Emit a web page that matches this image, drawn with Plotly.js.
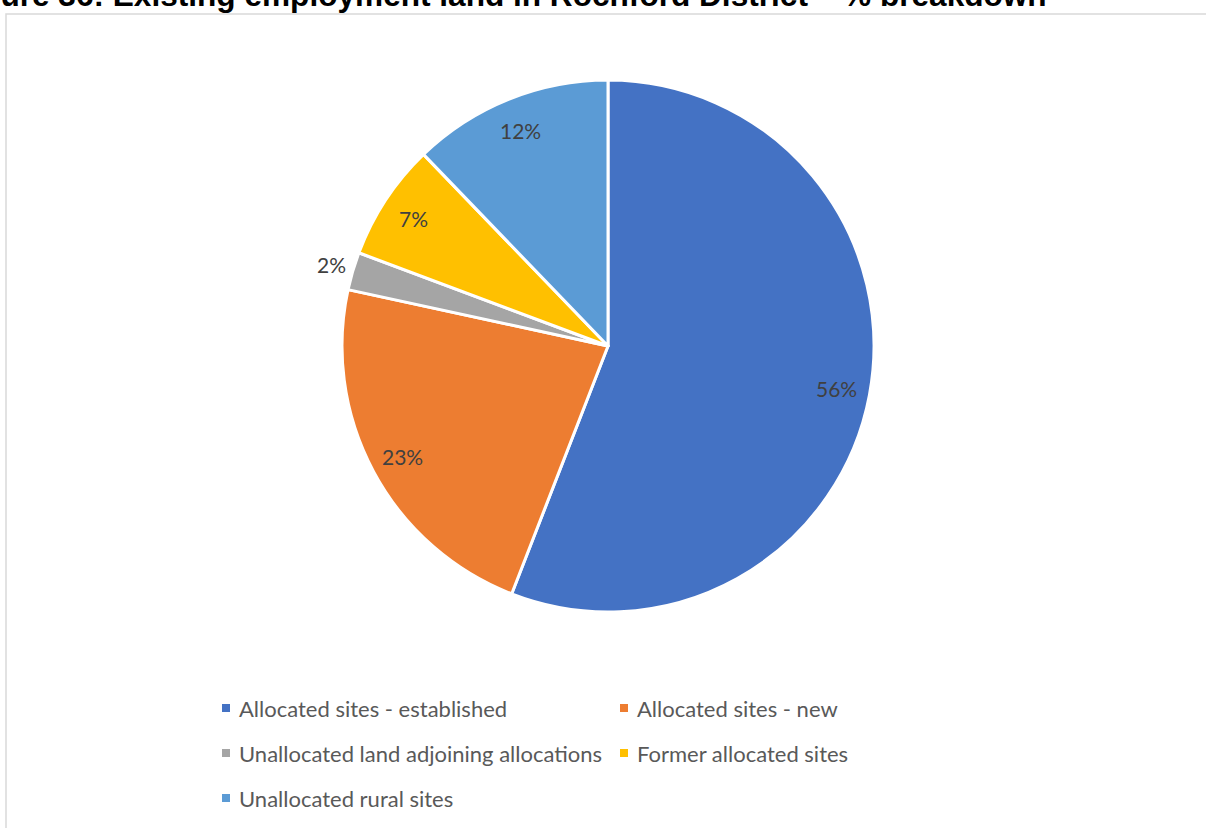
<!DOCTYPE html>
<html>
<head>
<meta charset="utf-8">
<script src="https://cdn.plot.ly/plotly-3.0.1.min.js"></script>
<style>
  html, body { margin: 0; padding: 0; background: #ffffff; }
  #chart { width: 1206px; height: 828px; }
</style>
</head>
<body>
<div id="chart"></div>
<script>
// ---- data ----
const categories = [
  "Allocated sites - established",
  "Allocated sites - new",
  "Unallocated land adjoining allocations",
  "Former allocated sites",
  "Unallocated rural sites"
];
const shares = [55.9, 22.5, 2.3, 7.1, 12.2];
const colors = ["#4472C4", "#ED7D31", "#A5A5A5", "#FFC000", "#5B9BD5"];
const chartTitle = "Figure 36: Existing employment land in Rochford District \u2013 % breakdown";

// ---- layout constants ----
const W = 1206, H = 828;
const cx = 608, cy = 346, R = 266;
const px = x => x / W;
const py = y => 1 - y / H;

const total = shares.reduce((a, b) => a + b, 0);

// labels placed at slice mid-angles (derived from the data)
const annotations = [];
let cum = 0;
shares.forEach((v, i) => {
  const mid = (cum + v / 2) / total * 2 * Math.PI;
  cum += v;
  const small = v / total < 0.05;
  const r = small ? 1.085 * R : 0.875 * R;
  const x = cx + Math.sin(mid) * r;
  const y = cy - Math.cos(mid) * r;
  annotations.push({
    xref: "paper", yref: "paper",
    x: px(x), y: py(y),
    xanchor: "center", yanchor: "middle",
    text: Math.round(v / total * 100) + "%",
    showarrow: false,
    font: {family: "Lato, 'Open Sans', sans-serif", size: 21, color: "#404040"}
  });
});

// title (partially cut off at the top of the frame, as in the source)
annotations.push({
  xref: "paper", yref: "paper",
  x: px(1049), y: py(-5),
  xanchor: "right", yanchor: "middle",
  text: "<b>" + chartTitle + "</b>",
  showarrow: false,
  font: {family: "'Liberation Sans', Arial, sans-serif", size: 31.6, color: "#000000"}
});

// legend (two columns, three rows)
const shapes = [{
  type: "rect", xref: "paper", yref: "paper",
  x0: px(6), x1: px(1215), y0: py(14), y1: py(840),
  line: {color: "#D9D9D9", width: 1.5}, fillcolor: "rgba(0,0,0,0)"
}];
const legCols = [226, 624];
const legRows = [708, 753, 798];
categories.forEach((c, i) => {
  const col = legCols[i % 2];
  const row = legRows[Math.floor(i / 2)];
  shapes.push({
    type: "rect", xref: "paper", yref: "paper",
    x0: px(col - 4), x1: px(col + 4), y0: py(row + 4), y1: py(row - 4),
    line: {width: 0}, fillcolor: colors[i]
  });
  annotations.push({
    xref: "paper", yref: "paper",
    x: px(col + 11), y: py(row),
    xanchor: "left", yanchor: "middle",
    text: c, showarrow: false,
    font: {family: "Lato, 'Open Sans', sans-serif", size: 22, color: "#595959"}
  });
});

const trace = {
  type: "pie",
  labels: categories,
  values: shares,
  sort: false,
  direction: "clockwise",
  rotation: 0,
  marker: {colors: colors, line: {color: "#FFFFFF", width: 3}},
  textinfo: "none",
  hoverinfo: "label+percent",
  domain: {x: [px(cx - R), px(cx + R)], y: [py(cy + R), py(cy - R)]},
  showlegend: false
};

const layout = {
  width: W, height: H,
  margin: {l: 0, r: 0, t: 0, b: 0},
  paper_bgcolor: "#FFFFFF",
  plot_bgcolor: "#FFFFFF",
  showlegend: false,
  annotations: annotations,
  shapes: shapes
};

Plotly.newPlot("chart", [trace], layout, {displayModeBar: false, staticPlot: true});
</script>
</body>
</html>
